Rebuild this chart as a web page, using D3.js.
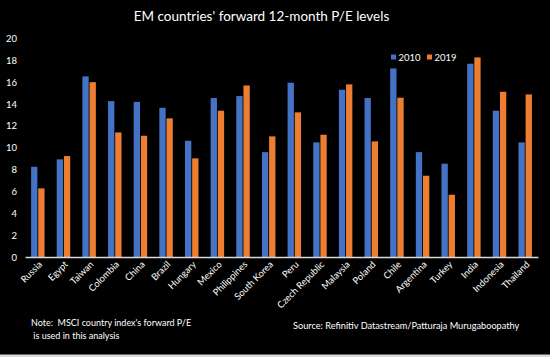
<!DOCTYPE html>
<html><head><meta charset="utf-8">
<script src="https://cdn.jsdelivr.net/npm/d3@7"></script>
<style>
html,body{margin:0;padding:0;background:#000;}
svg{display:block;}
text{font-family:Lato,"Open Sans",sans-serif;fill:#fff;}
</style></head>
<body><div id="chart"></div>
<script>
const countries = ["Russia","Egypt","Taiwan","Colombia","China","Brazil","Hungary","Mexico","Philippines","South Korea","Peru","Czech Republic","Malaysia","Poland","Chile","Argentina","Turkey","India","Indonesia","Thailand"];
const pe2010 = [8.26,8.94,16.53,14.27,14.2,13.66,10.64,14.55,14.73,9.6,15.95,10.49,15.31,14.55,17.26,9.6,8.54,17.69,13.39,10.49];
const pe2019 = [6.28,9.24,16.0,11.4,11.1,12.69,9.03,13.39,15.7,11.04,13.24,11.19,15.8,10.58,14.58,7.44,5.7,18.27,15.12,14.88];
const seriesNames = ["2010","2019"];
const yTicks = [0,2,4,6,8,10,12,14,16,18,20];
const colors = ["#4472C4","#ED7D31"];
const title = "EM countries' forward 12-month P/E levels";
const noteLines = ["Note:  MSCI country index's forward P/E", " is used in this analysis"];
const source = "Source: Refinitiv Datastream/Patturaja Murugaboopathy";

const W = 550, H = 357;
const svg = d3.select("#chart").append("svg").attr("width", W).attr("height", H);
svg.append("rect").attr("width", W).attr("height", H).attr("fill", "#000");

const x = d3.scaleBand().domain(countries).range([25, 538]).paddingInner(0).paddingOuter(0);
const y = d3.scaleLinear().domain([0, 20]).range([257, 38.5]);
const xs = d3.scaleBand().domain(seriesNames).range([0, x.bandwidth()]).paddingInner(0.12).paddingOuter(0.85);

// title
svg.append("text").attr("x", 261.5).attr("y", 21).attr("text-anchor", "middle")
  .attr("font-size", 13.5).text(title);

// y axis labels
const yAxis = d3.axisLeft(y).tickValues(yTicks).tickSize(0).tickPadding(0);
const gy = svg.append("g").attr("transform", "translate(17,0)").call(yAxis);
gy.select(".domain").remove();
gy.selectAll("text").attr("fill", "#fff").attr("font-size", 9.5).attr("font-family", "Lato, sans-serif");

// bars
const data = countries.map((c, i) => ({c, vals: [pe2010[i], pe2019[i]]}));
const groups = svg.append("g").selectAll("g").data(data).join("g")
  .attr("transform", d => `translate(${x(d.c)},0)`);
groups.selectAll("rect").data(d => d.vals.map((v, j) => ({s: seriesNames[j], v, j})))
  .join("rect")
  .attr("x", d => xs(d.s)).attr("width", xs.bandwidth())
  .attr("y", d => y(d.v)).attr("height", d => y(0) - y(d.v))
  .attr("fill", d => colors[d.j]);

// x axis
const xAxis = d3.axisBottom(x).tickSize(0).tickPadding(0);
const gx = svg.append("g").attr("transform", `translate(0,${y(0)})`).call(xAxis);
gx.select(".domain").attr("stroke", "#d9d9d9").attr("stroke-width", 1.5);
gx.selectAll("text").attr("fill", "#fff").attr("font-size", 9.3).attr("font-family", "Lato, sans-serif")
  .attr("text-anchor", "end").attr("dy", null).attr("y", 0)
  .attr("transform", "translate(5,8) rotate(-45)");

// legend
const leg = svg.append("g").attr("transform", "translate(391,53)");
seriesNames.forEach((s, i) => {
  const g = leg.append("g").attr("transform", `translate(${i * 36},0)`);
  g.append("rect").attr("x", 0).attr("y", 1.5).attr("width", 5).attr("height", 5).attr("fill", colors[i]);
  g.append("text").attr("x", 7.5).attr("y", 8).attr("font-size", 9.5).text(s);
});

// note
noteLines.forEach((t, i) => {
  svg.append("text").attr("x", 31).attr("y", 326 + i * 13).attr("font-size", 9).attr("xml:space", "preserve")
    .style("white-space", "pre").text(t);
});
svg.append("text").attr("x", 293).attr("y", 329).attr("font-size", 9.2).text(source);

// bottom strip
svg.append("rect").attr("x", 0).attr("y", 354.5).attr("width", W).attr("height", 2.5).attr("fill", "#d9d9d9");
</script></body></html>
